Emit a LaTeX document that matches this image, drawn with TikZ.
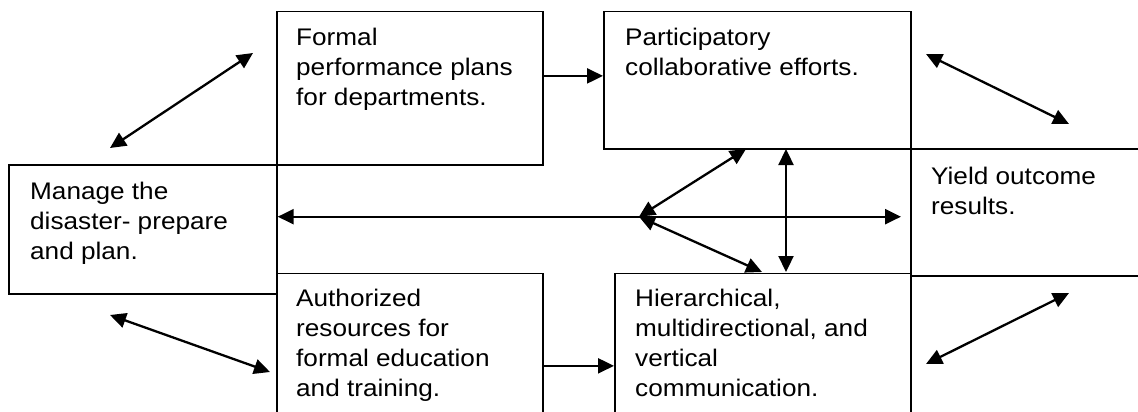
\documentclass[tikz,border=0pt]{standalone}
\usepackage{fontspec}
\setmainfont{Liberation Sans}[FakeStretch=1.09]
\usetikzlibrary{arrows.meta, positioning}

\begin{document}
\begin{tikzpicture}[x=1pt, y=-1pt,
  box/.style={rectangle, draw=black, line width=1.7pt, inner sep=0pt, anchor=north west},
  boxtext/.style={inner sep=0pt, align=left, font=\fontsize{24}{30}\selectfont},
  dbl/.style={{Triangle[length=16pt,width=15pt]}-{Triangle[length=16pt,width=15pt]}, line width=2.3pt},
  single/.style={-{Triangle[length=16pt,width=15pt]}, line width=2.3pt}]
\useasboundingbox (0,0) rectangle (1138,412);
\clip (0,0) rectangle (1138,412);
% boxes
\node (formal) [box, minimum width=266pt, minimum height=153.3pt] at (276,10.7) {};
\node (partic) [box, minimum width=307pt, minimum height=137.3pt] at (603,10.7) {};
\node (manage) [box, minimum width=268pt, minimum height=129pt] at (8,164) {};
\node (yield) [box, minimum width=260pt, minimum height=127pt] at (910,148) {};
\node (author) [box, minimum width=266pt, minimum height=138.8pt] at (276,272.7) {};
\node (hier) [box, minimum width=296pt, minimum height=138.8pt] at (614,272.7) {};
% texts
\node (formaltext) [boxtext, below right=17pt and 20pt of formal.north west] {Formal\\performance plans\\for departments.};
\node (partictext) [boxtext, below right=17pt and 22pt of partic.north west] {Participatory\\collaborative efforts.};
\node (managetext) [boxtext, below right=18pt and 22pt of manage.north west] {Manage the\\disaster- prepare\\and plan.};
\node (yieldtext) [boxtext, below right=19pt and 21pt of yield.north west] {Yield outcome\\results.};
\node (authortext) [boxtext, below right=16pt and 20pt of author.north west] {Authorized\\resources for\\formal education\\and training.};
\node (hiertext) [boxtext, below right=16pt and 21pt of hier.north west] {Hierarchical,\\multidirectional, and\\vertical\\communication.};
% free ends
\coordinate (hub) at (639,216.7);
\coordinate (tl1) at (110,148);
\coordinate (tl2) at (253,53);
\coordinate (tr1) at (926,54);
\coordinate (tr2) at (1069,124);
\coordinate (bl1) at (110,315);
\coordinate (bl2) at (270,372);
\coordinate (br1) at (926,364);
\coordinate (br2) at (1069,293);
\coordinate (up) at (746,149);
\coordinate (down) at (762,272);
\coordinate (vtop) at (786,149);
\coordinate (vbot) at (786,272);
% arrows
\draw [single] ([yshift=12.3pt]formal.east) -- ([yshift=12.3pt]formal.east -| partic.west);
\draw [single] ([yshift=-22.9pt]author.east) -- ([yshift=-22.9pt]author.east -| hier.west);
\draw [dbl] (manage.east |- hub) -- ([xshift=-9pt]yield.west |- hub);
\draw [dbl] (hub) -- (up);
\draw [dbl] (hub) -- (down);
\draw [dbl] (vtop) -- (vbot);
\draw [dbl] (tl1) -- (tl2);
\draw [dbl] (tr1) -- (tr2);
\draw [dbl] (bl1) -- (bl2);
\draw [dbl] (br1) -- (br2);
\end{tikzpicture}
\end{document}
